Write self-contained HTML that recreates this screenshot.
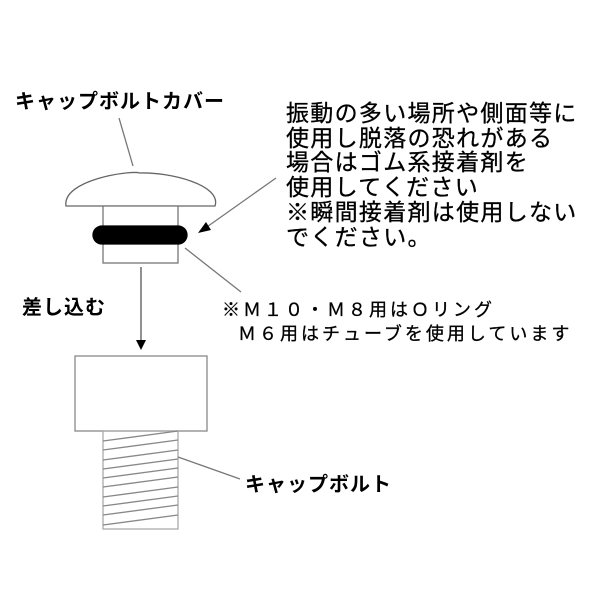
<!DOCTYPE html><html><head><meta charset="utf-8"><style>
body{margin:0;background:#fff;}
.t{position:absolute;font-family:"Liberation Sans","Noto Sans CJK JP",sans-serif;color:#000;white-space:nowrap;}
.b{font-weight:bold;font-size:20px;letter-spacing:1px;}
</style></head><body>
<div style="position:relative;width:600px;height:600px;overflow:hidden">
<svg width="600" height="600" style="position:absolute;left:0;top:0" fill="none" stroke="#777" stroke-width="1.3">
<line x1="133" y1="166" x2="119" y2="118"/>
<path d="M66,206 C62,180 130,170 140,173 C170,172 222,185 215,206 Z" stroke="#666" fill="#fff"/>
<rect x="103" y="206" width="75" height="57" fill="#fff" stroke="#777"/>
<rect x="93" y="226" width="94" height="18" rx="9" fill="#000" stroke="#000"/>
<line x1="276" y1="178" x2="204" y2="229"/>
<polygon points="198,233 206,222 211,230" fill="#000" stroke="none"/>
<line x1="185" y1="248" x2="241" y2="292"/>
<line x1="141" y1="267" x2="141" y2="340" stroke="#555"/>
<polygon points="136,340 146,340 141,350" fill="#000" stroke="none"/>
<rect x="75" y="356" width="132" height="75" fill="#fff" stroke="#888"/>
<rect x="103" y="431" width="75" height="98" stroke="#aaa"/>
<g stroke="#888">
<line x1="103" y1="441" x2="178" y2="431"/><line x1="103" y1="450" x2="178" y2="440"/>
<line x1="103" y1="460" x2="178" y2="450"/><line x1="103" y1="469" x2="178" y2="459"/>
<line x1="103" y1="478" x2="178" y2="468"/><line x1="103" y1="487" x2="178" y2="477"/>
<line x1="103" y1="497" x2="178" y2="487"/><line x1="103" y1="506" x2="178" y2="496"/>
<line x1="103" y1="515" x2="178" y2="505"/><line x1="103" y1="525" x2="178" y2="515"/>
</g>
<line x1="178" y1="457" x2="240" y2="479"/>
</svg>
<div class="t b" style="left:15px;top:85px">キャップボルトカバー</div>
<div class="t b" style="left:22px;top:291px">差し込む</div>
<div class="t b" style="left:245px;top:468px">キャップボルト</div>
<div class="t" style="left:286px;top:101px;font-size:23px;line-height:24.7px;letter-spacing:1.3px;-webkit-text-stroke:0.3px #000">振動の多い場所や側面等に<br>使用し脱落の恐れがある<br>場合はゴム系接着剤を<br>使用してください<br>※瞬間接着剤は使用しない<br>でください。</div>
<div class="t" style="left:222px;top:298px;font-size:18px;line-height:24px;letter-spacing:3px;-webkit-text-stroke:0.3px #000">※Ｍ１０・Ｍ８用はＯリング<br>&nbsp;&nbsp;Ｍ６用はチューブを使用しています</div>
</div>
</body></html>
